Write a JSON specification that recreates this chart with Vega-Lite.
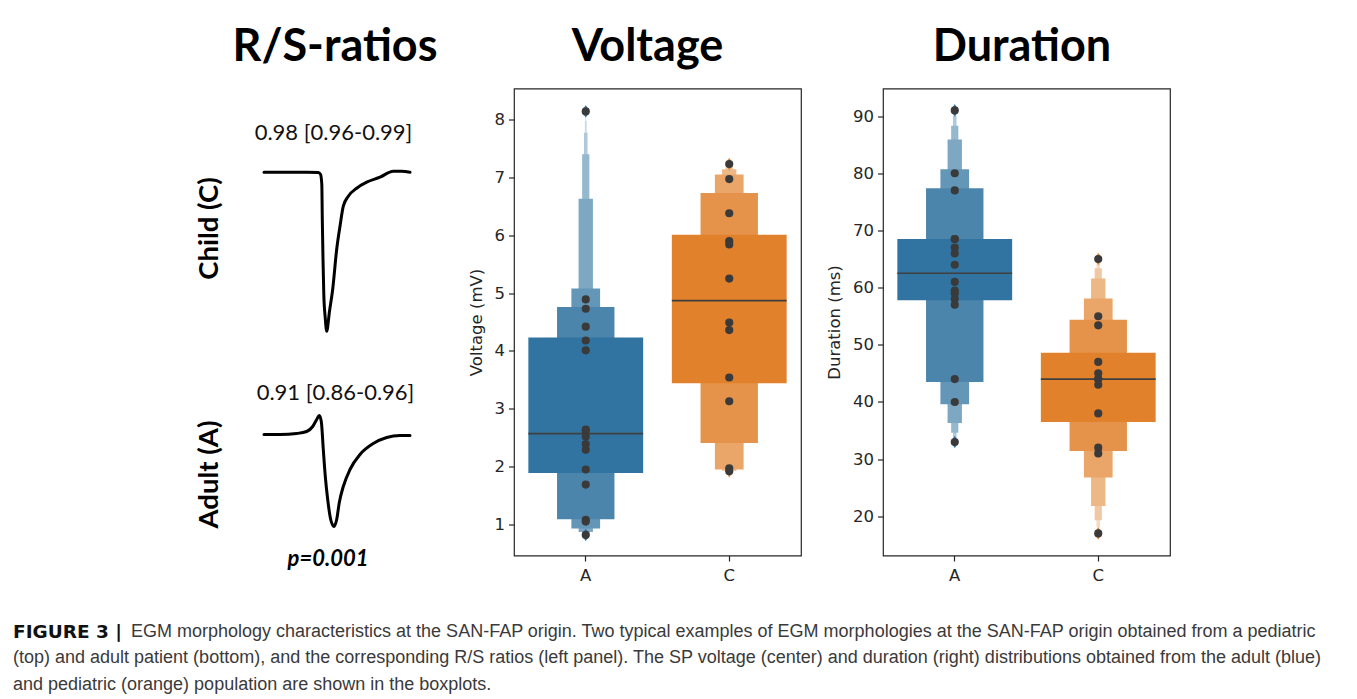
{
  "$schema": "https://vega.github.io/schema/vega-lite/v6.json",
  "padding": {"left": 13, "top": 23.5, "right": 0, "bottom": 0},
  "background": "white",
  "config": {
    "view": {"stroke": "#262626", "strokeWidth": 1.2},
    "axis": {
      "labelFont": "DejaVu Sans", "labelFontSize": 16.5, "labelColor": "#262626",
      "tickColor": "#262626", "tickWidth": 1.2, "tickSize": 5.5,
      "domain": false, "grid": false,
      "titleFont": "DejaVu Sans", "titleFontSize": 16.5, "titleFontWeight": "normal", "titleColor": "#262626"
    },
    "title": {"font": "Lato", "fontSize": 45, "fontWeight": "bold", "color": "#000000", "frame": "group", "anchor": "middle", "baseline": "alphabetic", "offset": 18.5}
  },
  "datasets": {
    "child": [
      {"t": 0, "amp": 0}, {"t": 8, "amp": 0}, {"t": 21.35, "amp": 0}, {"t": 27.15, "amp": -0.003},
      {"t": 28.25, "amp": -0.02}, {"t": 28.9, "amp": -0.12}, {"t": 29.15, "amp": -0.47}, {"t": 29.5, "amp": -0.87},
      {"t": 29.9, "amp": -1.22}, {"t": 30.6, "amp": -1.45}, {"t": 31.35, "amp": -1.59}, {"t": 32.75, "amp": -1.39},
      {"t": 34.35, "amp": -1.17}, {"t": 36.35, "amp": -0.77}, {"t": 38, "amp": -0.54}, {"t": 39.65, "amp": -0.34},
      {"t": 42.15, "amp": -0.24}, {"t": 46.35, "amp": -0.16}, {"t": 51.35, "amp": -0.1}, {"t": 58, "amp": -0.05},
      {"t": 64.65, "amp": 0.01}, {"t": 68.85, "amp": 0.01}, {"t": 73, "amp": 0}
    ],
    "adult": [
      {"t": 0, "amp": 0}, {"t": 8, "amp": 0}, {"t": 16.35, "amp": 0.01}, {"t": 21.35, "amp": 0.03},
      {"t": 24.35, "amp": 0.08}, {"t": 26.35, "amp": 0.15}, {"t": 27.65, "amp": 0.19}, {"t": 28.65, "amp": 0.13},
      {"t": 29.65, "amp": -0.15}, {"t": 30.65, "amp": -0.42}, {"t": 31.85, "amp": -0.65}, {"t": 33.35, "amp": -0.85},
      {"t": 35, "amp": -0.92}, {"t": 36.35, "amp": -0.85}, {"t": 37.65, "amp": -0.68}, {"t": 39.65, "amp": -0.52},
      {"t": 43, "amp": -0.35}, {"t": 48, "amp": -0.2}, {"t": 54.65, "amp": -0.09}, {"t": 61.35, "amp": -0.03},
      {"t": 68, "amp": -0.01}, {"t": 73, "amp": -0.01}
    ],
    "vpts": [
      {"group": "A", "v": 8.14}, {"group": "A", "v": 4.89}, {"group": "A", "v": 4.73}, {"group": "A", "v": 4.42},
      {"group": "A", "v": 4.18}, {"group": "A", "v": 4.01}, {"group": "A", "v": 2.64}, {"group": "A", "v": 2.62},
      {"group": "A", "v": 2.52}, {"group": "A", "v": 2.39}, {"group": "A", "v": 2.29}, {"group": "A", "v": 1.95},
      {"group": "A", "v": 1.69}, {"group": "A", "v": 1.08}, {"group": "A", "v": 1.05}, {"group": "A", "v": 0.82},
      {"group": "C", "v": 7.23}, {"group": "C", "v": 6.97}, {"group": "C", "v": 6.38}, {"group": "C", "v": 5.9},
      {"group": "C", "v": 5.84}, {"group": "C", "v": 5.25}, {"group": "C", "v": 4.49}, {"group": "C", "v": 4.36},
      {"group": "C", "v": 3.54}, {"group": "C", "v": 3.13}, {"group": "C", "v": 1.97}, {"group": "C", "v": 1.92}
    ],
    "dpts": [
      {"group": "A", "v": 91}, {"group": "A", "v": 80}, {"group": "A", "v": 77}, {"group": "A", "v": 68.5},
      {"group": "A", "v": 68.5}, {"group": "A", "v": 67}, {"group": "A", "v": 66}, {"group": "A", "v": 64},
      {"group": "A", "v": 61}, {"group": "A", "v": 59.5}, {"group": "A", "v": 59}, {"group": "A", "v": 58},
      {"group": "A", "v": 57}, {"group": "A", "v": 44}, {"group": "A", "v": 40}, {"group": "A", "v": 33},
      {"group": "C", "v": 65}, {"group": "C", "v": 55}, {"group": "C", "v": 53.4}, {"group": "C", "v": 47},
      {"group": "C", "v": 45}, {"group": "C", "v": 44}, {"group": "C", "v": 44}, {"group": "C", "v": 43},
      {"group": "C", "v": 38}, {"group": "C", "v": 32}, {"group": "C", "v": 31}, {"group": "C", "v": 17}
    ],
    "vbox": [
      {"group": "A", "level": 8, "v": 0.82, "v2": 8.08}, {"group": "A", "level": 7, "v": 0.825, "v2": 7.98},
      {"group": "A", "level": 6, "v": 0.83, "v2": 7.77}, {"group": "A", "level": 5, "v": 0.84, "v2": 7.4},
      {"group": "A", "level": 4, "v": 0.87, "v2": 6.63}, {"group": "A", "level": 3, "v": 0.93, "v2": 5.08},
      {"group": "A", "level": 2, "v": 1.09, "v2": 4.76}, {"group": "A", "level": 1, "v": 1.89, "v2": 4.23},
      {"group": "C", "level": 7, "v": 1.92, "v2": 7.22}, {"group": "C", "level": 6, "v": 1.92, "v2": 7.21},
      {"group": "C", "level": 5, "v": 1.925, "v2": 7.19}, {"group": "C", "level": 4, "v": 1.93, "v2": 7.14},
      {"group": "C", "level": 3, "v": 1.95, "v2": 7.05}, {"group": "C", "level": 2, "v": 2.41, "v2": 6.73},
      {"group": "C", "level": 1, "v": 3.44, "v2": 6.01}
    ],
    "dbox": [
      {"group": "A", "level": 8, "v": 33.05, "v2": 90.9}, {"group": "A", "level": 7, "v": 33.2, "v2": 90.6},
      {"group": "A", "level": 6, "v": 33.6, "v2": 90.0}, {"group": "A", "level": 5, "v": 34.6, "v2": 88.3},
      {"group": "A", "level": 4, "v": 36.3, "v2": 85.9}, {"group": "A", "level": 3, "v": 39.6, "v2": 80.7},
      {"group": "A", "level": 2, "v": 43.5, "v2": 77.4}, {"group": "A", "level": 1, "v": 57.8, "v2": 68.5},
      {"group": "C", "level": 7, "v": 17.5, "v2": 64.8}, {"group": "C", "level": 6, "v": 18.1, "v2": 64.4},
      {"group": "C", "level": 5, "v": 19.3, "v2": 63.4}, {"group": "C", "level": 4, "v": 21.8, "v2": 61.6},
      {"group": "C", "level": 3, "v": 26.8, "v2": 58.1}, {"group": "C", "level": 2, "v": 31.4, "v2": 54.4},
      {"group": "C", "level": 1, "v": 36.5, "v2": 48.6}
    ],
    "caption": [
      {"line": 1, "part": "lead", "text": "FIGURE 3 |"},
      {"line": 1, "part": "body1", "text": "EGM morphology characteristics at the SAN-FAP origin. Two typical examples of EGM morphologies at the SAN-FAP origin obtained from a pediatric"},
      {"line": 2, "part": "body", "text": "(top) and adult patient (bottom), and the corresponding R/S ratios (left panel). The SP voltage (center) and duration (right) distributions obtained from the adult (blue)"},
      {"line": 3, "part": "body", "text": "and pediatric (orange) population are shown in the boxplots."}
    ]
  },
  "concat": [
    {
      "width": 419, "height": 467,
      "view": {"stroke": null},
      "title": {"text": "R/S-ratios", "dx": 112.5},
      "layer": [
        {
          "data": {"name": "child"},
          "mark": {"type": "line", "color": "#000000", "strokeWidth": 3, "interpolate": "monotone", "strokeCap": "round", "strokeJoin": "round"},
          "encoding": {
            "x": {"field": "t", "type": "quantitative", "scale": {"domain": [-125.5, 84], "nice": false, "zero": false},
              "axis": {"orient": "top", "labels": false, "ticks": false, "domain": false, "grid": false, "minExtent": 0,
                "title": "0.98 [0.96-0.99]", "titleFont": "Lato", "titleFontSize": 22, "titleFontWeight": "normal", "titleColor": "#111111",
                "titleX": 320, "titleY": 51, "titleAlign": "center", "titleBaseline": "alphabetic", "titleAngle": 0}},
            "y": {"field": "amp", "type": "quantitative", "scale": {"domain": [-3.833, 0.837], "nice": false, "zero": false},
              "axis": {"orient": "left", "labels": false, "ticks": false, "domain": false, "grid": false, "minExtent": 0,
                "title": "Child (C)", "titleFont": "Lato", "titleFontSize": 27.5, "titleFontWeight": "bold", "titleColor": "#000000",
                "titleX": 196.5, "titleY": 139.5, "titleAngle": 270, "titleAlign": "center", "titleBaseline": "middle"}}
          }
        },
        {
          "data": {"name": "adult"},
          "mark": {"type": "line", "color": "#000000", "strokeWidth": 3, "interpolate": "monotone", "strokeCap": "round", "strokeJoin": "round"},
          "encoding": {
            "x": {"field": "t", "type": "quantitative", "scale": {"domain": [-125.5, 84], "nice": false, "zero": false},
              "axis": {"orient": "bottom", "labels": false, "ticks": false, "domain": false, "grid": false, "minExtent": 0,
                "title": "0.91 [0.86-0.96]", "titleFont": "Lato", "titleFontSize": 22, "titleFontWeight": "normal", "titleColor": "#111111",
                "titleX": 322, "titleY": -156, "titleAlign": "center", "titleBaseline": "alphabetic", "titleAngle": 0}},
            "y": {"field": "amp", "type": "quantitative", "scale": {"domain": [-1.21, 3.46], "nice": false, "zero": false},
              "axis": {"orient": "right", "labels": false, "ticks": false, "domain": false, "grid": false, "minExtent": 0,
                "title": "Adult (A)", "titleFont": "Lato", "titleFontSize": 27.5, "titleFontWeight": "bold", "titleColor": "#000000",
                "titleX": -222.5, "titleY": 385.5, "titleAngle": 270, "titleAlign": "center", "titleBaseline": "middle"}}
          }
        }
      ],
      "resolve": {"scale": {"x": "independent", "y": "independent"}, "axis": {"x": "independent", "y": "independent"}}
    },
    {
      "width": 287, "height": 467,
      "title": {"text": "Voltage", "dx": -10},
      "encoding": {
        "x": {"field": "group", "type": "nominal", "scale": {"type": "band", "domain": ["A", "C"], "paddingInner": 0, "paddingOuter": 0},
          "axis": {"title": null, "labelAngle": 0, "labelPadding": 6}},
        "y": {"field": "v", "type": "quantitative", "scale": {"domain": [0.464, 8.536], "nice": false, "zero": false},
          "axis": {"title": "Voltage (mV)", "values": [1, 2, 3, 4, 5, 6, 7, 8], "labelPadding": 4, "titlePadding": 10}}
      },
      "layer": [
        {
          "data": {"name": "vbox"},
          "transform": [{"calculate": "datum.group + datum.level", "as": "key"}],
          "mark": {"type": "bar"},
          "encoding": {
            "y2": {"field": "v2"},
            "size": {"field": "level", "type": "ordinal", "scale": {"type": "ordinal", "domain": [1, 2, 3, 4, 5, 6, 7, 8], "range": [114.8, 57.4, 28.7, 14.35, 7.2, 3.6, 1.8, 0.9]}, "legend": null},
            "color": {"field": "key", "type": "nominal", "legend": null,
              "scale": {"domain": ["A1", "A2", "A3", "A4", "A5", "A6", "A7", "A8", "C1", "C2", "C3", "C4", "C5", "C6", "C7"],
                "range": ["#3274a1", "#4b85ac", "#6496b8", "#7da7c3", "#96b8cf", "#afc8da", "#c7d9e6", "#e0eaf1", "#e1812c", "#e5934a", "#eaa568", "#eeb786", "#f2c8a4", "#f6dac2", "#faecdf"]}}
          }
        },
        {
          "data": {"name": "vpts"},
          "transform": [{"aggregate": [{"op": "median", "field": "v", "as": "v"}], "groupby": ["group"]}],
          "mark": {"type": "tick", "size": 114.8, "thickness": 1.6, "color": "#3f3f3f", "opacity": 1}
        },
        {
          "data": {"name": "vpts"},
          "transform": [
            {"joinaggregate": [{"op": "min", "field": "v", "as": "mn"}, {"op": "max", "field": "v", "as": "mx"}], "groupby": ["group"]},
            {"filter": "datum.v == datum.mn || datum.v == datum.mx"},
            {"calculate": "datum.group + '1'", "as": "key"}
          ],
          "mark": {"type": "point", "filled": true, "shape": "M0,-1L0.6,0L0,1L-0.6,0Z", "size": 160, "opacity": 1},
          "encoding": {"color": {"field": "key", "type": "nominal", "legend": null}}
        },
        {
          "data": {"name": "vpts"},
          "mark": {"type": "circle", "size": 66, "color": "#3a3a3a", "opacity": 1}
        }
      ]
    },
    {
      "width": 287, "height": 467,
      "title": {"text": "Duration", "dx": -4.5},
      "encoding": {
        "x": {"field": "group", "type": "nominal", "scale": {"type": "band", "domain": ["A", "C"], "paddingInner": 0, "paddingOuter": 0},
          "axis": {"title": null, "labelAngle": 0, "labelPadding": 6}},
        "y": {"field": "v", "type": "quantitative", "scale": {"domain": [13.14, 94.83], "nice": false, "zero": false},
          "axis": {"title": "Duration (ms)", "values": [20, 30, 40, 50, 60, 70, 80, 90], "labelPadding": 4, "titlePadding": 10.5}}
      },
      "layer": [
        {
          "data": {"name": "dbox"},
          "transform": [{"calculate": "datum.group + datum.level", "as": "key"}],
          "mark": {"type": "bar"},
          "encoding": {
            "y2": {"field": "v2"},
            "size": {"field": "level", "type": "ordinal", "scale": {"type": "ordinal", "domain": [1, 2, 3, 4, 5, 6, 7, 8], "range": [114.8, 57.4, 28.7, 14.35, 7.2, 3.6, 1.8, 0.9]}, "legend": null},
            "color": {"field": "key", "type": "nominal", "legend": null,
              "scale": {"domain": ["A1", "A2", "A3", "A4", "A5", "A6", "A7", "A8", "C1", "C2", "C3", "C4", "C5", "C6", "C7"],
                "range": ["#3274a1", "#4b85ac", "#6496b8", "#7da7c3", "#96b8cf", "#afc8da", "#c7d9e6", "#e0eaf1", "#e1812c", "#e5934a", "#eaa568", "#eeb786", "#f2c8a4", "#f6dac2", "#faecdf"]}}
          }
        },
        {
          "data": {"name": "dpts"},
          "transform": [{"aggregate": [{"op": "median", "field": "v", "as": "v"}], "groupby": ["group"]}],
          "mark": {"type": "tick", "size": 114.8, "thickness": 1.6, "color": "#3f3f3f", "opacity": 1}
        },
        {
          "data": {"name": "dpts"},
          "transform": [
            {"joinaggregate": [{"op": "min", "field": "v", "as": "mn"}, {"op": "max", "field": "v", "as": "mx"}], "groupby": ["group"]},
            {"filter": "datum.v == datum.mn || datum.v == datum.mx"},
            {"calculate": "datum.group + '1'", "as": "key"}
          ],
          "mark": {"type": "point", "filled": true, "shape": "M0,-1L0.6,0L0,1L-0.6,0Z", "size": 160, "opacity": 1},
          "encoding": {"color": {"field": "key", "type": "nominal", "legend": null}}
        },
        {
          "data": {"name": "dpts"},
          "mark": {"type": "circle", "size": 66, "color": "#3a3a3a", "opacity": 1}
        }
      ]
    },
    {
      "width": 419, "height": 80,
      "view": {"stroke": null},
      "title": {"text": "p=0.001", "fontSize": 22, "fontStyle": "italic", "fontWeight": "bold", "dx": 105.5, "offset": 47.3},
      "data": {"name": "caption"},
      "encoding": {
        "x": {"datum": 0, "type": "quantitative", "scale": {"domain": [0, 1]}, "axis": null},
        "y": {"field": "line", "type": "quantitative", "scale": {"domain": [0.5, 3.5], "reverse": true}, "axis": null},
        "text": {"field": "text"}
      },
      "layer": [
        {"transform": [{"filter": "datum.part == 'lead'"}],
         "mark": {"type": "text", "align": "left", "baseline": "middle", "font": "DejaVu Sans", "fontWeight": "bold", "fontSize": 18.5, "color": "#111111"}},
        {"transform": [{"filter": "datum.part == 'body1'"}],
         "mark": {"type": "text", "align": "left", "baseline": "middle", "font": "Liberation Sans", "fontSize": 18, "color": "#3a3a3a", "dx": 118}},
        {"transform": [{"filter": "datum.part == 'body'"}],
         "mark": {"type": "text", "align": "left", "baseline": "middle", "font": "Liberation Sans", "fontSize": 18, "color": "#3a3a3a"}}
      ]
    }
  ],
  "columns": 3,
  "spacing": {"row": 62.7, "column": 82},
  "bounds": "flush",
  "align": "each"
}
